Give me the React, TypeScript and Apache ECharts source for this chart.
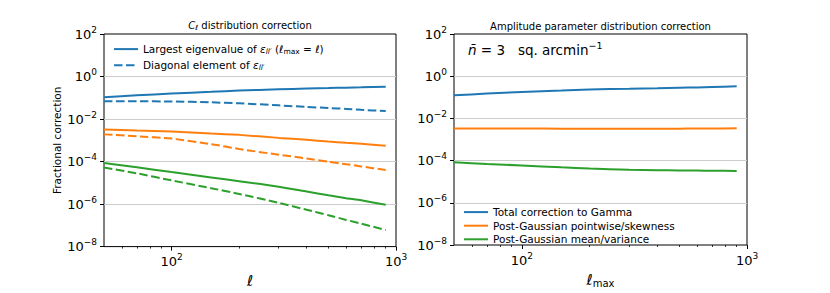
import React, { useEffect, useRef } from "react";
import * as echarts from "echarts";

const L = [50, 70, 100, 150, 200, 300, 400, 500, 600, 700, 900];
const leftEig = [0.106, 0.13, 0.158, 0.19, 0.22, 0.25, 0.27, 0.285, 0.3, 0.31, 0.33];
const leftDiag = [0.068, 0.068, 0.067, 0.061, 0.055, 0.044, 0.037, 0.033, 0.03, 0.027, 0.024];
const leftSkewEig = [3.2e-3, 2.9e-3, 2.6e-3, 2.1e-3, 1.8e-3, 1.3e-3, 1.05e-3, 8.7e-4, 7.6e-4, 6.8e-4, 5.5e-4];
const leftSkewDiag = [1.9e-3, 1.55e-3, 1.2e-3, 6.6e-4, 3.9e-4, 2.1e-4, 1.4e-4, 9.8e-5, 7.5e-5, 5.9e-5, 4.0e-5];
const leftMeanEig = [8.5e-5, 5.4e-5, 3.2e-5, 1.8e-5, 1.2e-5, 6.6e-6, 3.9e-6, 2.6e-6, 1.9e-6, 1.5e-6, 9.3e-7];
const leftMeanDiag = [5.3e-5, 2.8e-5, 1.3e-5, 5.6e-6, 3.0e-6, 1.15e-6, 5.4e-7, 3.0e-7, 1.8e-7, 1.2e-7, 6e-8];

const rightTotal = [0.125, 0.15, 0.18, 0.21, 0.235, 0.255, 0.27, 0.285, 0.295, 0.31, 0.33];
const rightSkew = [3.35e-3, 3.3e-3, 3.3e-3, 3.25e-3, 3.2e-3, 3.2e-3, 3.2e-3, 3.25e-3, 3.3e-3, 3.3e-3, 3.4e-3];
const rightMean = [8.4e-5, 6.9e-5, 5.9e-5, 4.8e-5, 4.2e-5, 3.7e-5, 3.5e-5, 3.4e-5, 3.35e-5, 3.3e-5, 3.25e-5];

const yTicks = [1e-8, 1e-6, 1e-4, 1e-2, 1, 100];
const yGrid = [1e-6, 1e-4, 1e-2, 1];
const xMajor = [100, 1000];
const xMinor = [60, 70, 80, 90, 200, 300, 400, 500, 600, 700, 800, 900];

const BLUE = "#1f77b4";
const ORANGE = "#ff7f0e";
const GREEN = "#2ca02c";
const FONT = "DejaVu Sans";
const DASH = [8.5, 3.5];

const pairs = (ys: number[]) => L.map((x, i) => [x, ys[i]]);

const powLabel = (v: number) => {
  const e = Math.round(Math.log10(v));
  return `{b|10}{s|${e < 0 ? "−" + -e : e}}`;
};
const tickRich = {
  b: { fontSize: 13, fontFamily: FONT, color: "#000" },
  s: { fontSize: 9, fontFamily: FONT, color: "#000", padding: [0, 0, 9, 0] },
};

export default function App() {
  const ref = useRef<HTMLDivElement>(null);
  useEffect(() => {
    if (!ref.current) return;
    const chart = echarts.init(ref.current, null, { renderer: "svg" });
    const grids = [
      { left: 104, top: 34, width: 292, height: 222 },
      { left: 454, top: 34, width: 293, height: 222 },
    ];
    const nameRich = {
      i: { fontSize: 15, fontStyle: "italic", fontFamily: FONT, color: "#000" },
      sub: { fontSize: 10, fontFamily: FONT, color: "#000", padding: [7, 0, 0, 0] },
    };
    const mkX = (gi: number, name: string) => [
      {
        type: "log",
        gridIndex: gi,
        min: 50,
        max: 1000,
        position: "bottom",
        axisLine: { show: false },
        splitLine: { show: false },
        axisTick: { show: true, customValues: xMajor, length: 4, lineStyle: { color: "#000", width: 1 } },
        axisLabel: {
          customValues: xMajor,
          formatter: powLabel,
          rich: tickRich,
          margin: 6,
        },
        name,
        nameLocation: "middle",
        nameGap: 26,
        nameTextStyle: { rich: nameRich },
      },
      {
        type: "log",
        gridIndex: gi,
        min: 50,
        max: 1000,
        position: "bottom",
        axisLine: { show: false },
        splitLine: { show: false },
        axisLabel: { show: false },
        axisTick: { show: true, customValues: xMinor, length: 2, lineStyle: { color: "#000", width: 0.8 } },
      },
    ];
    const mkY = (gi: number, name?: string) => ({
      type: "log",
      gridIndex: gi,
      min: 1e-8,
      max: 100,
      axisLine: { show: false },
      splitLine: { show: false },
      axisTick: { show: true, customValues: yTicks, length: 4, lineStyle: { color: "#000", width: 1 } },
      axisLabel: { customValues: yTicks, formatter: powLabel, rich: tickRich, margin: 7 },
      name: name || "",
      nameLocation: "middle",
      nameGap: 42,
      nameTextStyle: { fontSize: 10.5, fontFamily: FONT, color: "#000" },
    });
    const gridMark = {
      silent: true,
      symbol: "none",
      z: 1,
      precision: 12,
      label: { show: false },
      lineStyle: { color: "#cccccc", width: 1, type: "solid" },
      data: yGrid.map((v) => ({ yAxis: v })),
    };
    const line = (
      name: string,
      ys: number[],
      color: string,
      dashed: boolean,
      xi: number,
      yi: number,
      withGrid = false
    ) => ({
      type: "line",
      name,
      data: pairs(ys),
      xAxisIndex: xi,
      yAxisIndex: yi,
      showSymbol: false,
      symbol: "none",
      smooth: 0.2,
      z: 3,
      lineStyle: { color, width: 2, type: dashed ? DASH : "solid" },
      itemStyle: { color },
      ...(withGrid ? { markLine: gridMark } : {}),
    });
    const legRich = {
      i: { fontStyle: "italic", fontSize: 10.5, fontFamily: FONT, color: "#000" },
      sub: { fontSize: 7.5, fontStyle: "italic", fontFamily: FONT, color: "#000", padding: [5, 0, 0, 0] },
      subr: { fontSize: 7.5, fontFamily: FONT, color: "#000", padding: [5, 0, 0, 0] },
    };
    const legItem = (name: string, color: string, dashed: boolean) => ({
      name,
      lineStyle: { color, width: 2, type: dashed ? DASH : "solid" },
      itemStyle: { opacity: 0 },
    });
    const option: any = {
      animation: false,
      grid: grids.map((g) => ({ ...g, show: true, borderColor: "#000", borderWidth: 1, backgroundColor: "transparent" })),
      title: [
        {
          text: "{i|C}{sub|ℓ} distribution correction",
          left: 250,
          textAlign: "center",
          top: 20,
          padding: 0,
          textStyle: {
            fontSize: 10,
            fontWeight: "normal",
            fontFamily: FONT,
            color: "#000",
            rich: {
              i: { fontSize: 10, fontStyle: "italic", fontFamily: FONT, color: "#000" },
              sub: { fontSize: 7, fontStyle: "italic", fontFamily: FONT, color: "#000", padding: [4, 0, 0, 0] },
            },
          },
        },
        {
          text: "Amplitude parameter distribution correction",
          left: 600.5,
          textAlign: "center",
          top: 21,
          padding: 0,
          textStyle: { fontSize: 10, fontWeight: "normal", fontFamily: FONT, color: "#000" },
        },
      ],
      xAxis: [...mkX(0, "{i|ℓ}"), ...mkX(1, "{i|ℓ}{sub|max}")],
      yAxis: [mkY(0, "Fractional correction"), mkY(1)],
      legend: [
        {
          data: [legItem("eig", BLUE, false), legItem("diag", BLUE, true)],
          left: 113,
          top: 43.5,
          padding: 0,
          orient: "vertical",
          itemWidth: 24,
          itemHeight: 14,
          itemGap: 4,
          selectedMode: false,
          itemStyle: { opacity: 0 },
          formatter: (n: string) =>
            n === "eig"
              ? "Largest eigenvalue of {i|ε}{sub|ll′} ({i|ℓ}{subr|max} = {i|ℓ})"
              : "Diagonal element of {i|ε}{sub|ll′}",
          textStyle: { fontSize: 10.5, fontFamily: FONT, color: "#000", rich: legRich },
        },
        {
          data: [
            legItem("Total correction to Gamma", BLUE, false),
            legItem("Post-Gaussian pointwise/skewness", ORANGE, false),
            legItem("Post-Gaussian mean/variance", GREEN, false),
          ],
          left: 463,
          top: 206.5,
          padding: 0,
          orient: "vertical",
          itemWidth: 24,
          itemHeight: 14,
          itemGap: 2.4,
          selectedMode: false,
          itemStyle: { opacity: 0 },
          textStyle: { fontSize: 10.5, fontFamily: FONT, color: "#000" },
        },
      ],
      graphic: [
        {
          type: "text",
          left: 468,
          top: 40,
          style: {
            text: "{i|n̄} = 3   sq. arcmin{s|−1}",
            fontSize: 13.5,
            fontFamily: FONT,
            fill: "#000",
            rich: {
              i: { fontSize: 13.5, fontStyle: "italic", fontFamily: FONT, fill: "#000" },
              s: { fontSize: 9.5, fontFamily: FONT, fill: "#000", padding: [0, 0, 9, 0] },
            },
          },
        },
      ],
      series: [
        line("eig", leftEig, BLUE, false, 0, 0, true),
        line("diag", leftDiag, BLUE, true, 0, 0),
        line("eig ", leftSkewEig, ORANGE, false, 0, 0),
        line("diag ", leftSkewDiag, ORANGE, true, 0, 0),
        line("eig  ", leftMeanEig, GREEN, false, 0, 0),
        line("diag  ", leftMeanDiag, GREEN, true, 0, 0),
        line("Total correction to Gamma", rightTotal, BLUE, false, 2, 1, true),
        line("Post-Gaussian pointwise/skewness", rightSkew, ORANGE, false, 2, 1),
        line("Post-Gaussian mean/variance", rightMean, GREEN, false, 2, 1),
      ],
    };
    chart.setOption(option);
    return () => chart.dispose();
  }, []);
  return (
    <div
      ref={ref}
      style={{ position: "fixed", left: 0, top: 0, width: 830, height: 293, background: "#fff" }}
    />
  );
}
